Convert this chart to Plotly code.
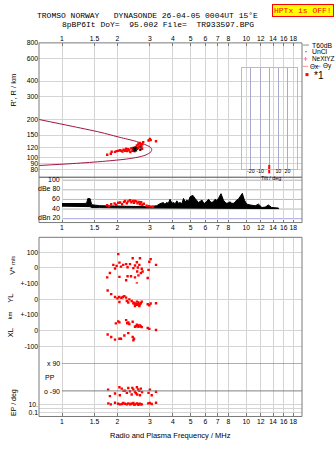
import numpy as np
import plotly.graph_objects as go

W, H = 335, 451
def X(p): return p / W
def Y(p): return 1 - p / H

SANS = "Liberation Sans, Arial, sans-serif"
MONO = "Liberation Mono, DejaVu Sans Mono, monospace"
GRID = "#d4d4d4"
FRAME = "#7a7a7a"
RED = "#ff0000"
PROFILE = "#a0153e"

# ---------------- data ----------------
freq_ticks = [1, 1.5, 2, 3, 4, 5, 6, 7, 8, 10, 12, 14, 16, 18]
freq_labels = ["1", "1.5", "2", "3", "4", "5", "6", "7", "8", "10", "12", "14", "16", "18"]
height_ticks = [80, 90, 100, 120, 150, 200, 300, 400, 600, 800]

# model E-layer profile (virtual height trace)
model_f = [0.75, 1.105, 1.609, 2.066, 2.49, 2.72, 2.897, 3.027, 3.072, 3.046, 2.971, 2.826, 2.588, 2.199, 1.609, 1.105, 0.75]
model_h = [199.1, 177.4, 158.0, 143.8, 134.6, 128.7, 124.3, 119.9, 115.3, 111.1, 107.8, 104.0, 100.4, 96.7, 92.6, 89.1, 86.3]

# echoes: virtual height
echo_f = [1.76, 1.84, 1.86, 1.94, 1.98, 2.02, 2.06, 2.10, 2.13, 2.16, 2.20, 2.23, 2.26, 2.29, 2.32, 2.35, 2.38,
          2.41, 2.44, 2.47, 2.52, 2.55, 2.58, 2.60, 2.62, 2.65, 2.68, 2.70, 2.73, 2.76, 2.72, 2.66, 2.95, 3.00, 3.03, 3.24]
echo_h = [105, 107, 110.7, 110.6, 112, 112.6, 114, 113, 111, 115, 113, 117, 112, 116, 114, 110, 118,
          113, 119, 112, 120, 124, 118, 128, 122, 130, 125, 121, 127, 132, 117, 115, 136, 140, 137, 134]
star_f = [2.49]
star_h = [116]

# noise level (dB) envelope
noise_f = [1.0, 1.1, 1.2, 1.3, 1.36, 1.38, 1.42, 1.45, 1.6, 2.0, 2.5, 3.0, 3.27, 3.4, 3.55, 3.62, 3.70, 3.78, 3.86,
           3.95, 4.03, 4.12, 4.20, 4.29, 4.38, 4.47, 4.57, 4.66, 4.76, 4.86, 4.96, 5.13, 5.28, 5.4, 5.51, 5.63,
           5.75, 5.85, 5.95, 6.1, 6.25, 6.4, 6.52, 6.65, 6.79, 6.93, 7.07, 7.3, 7.52, 7.68, 7.84, 8.0, 8.17,
           8.35, 8.52, 8.7, 8.88, 9.05, 9.26, 9.53, 9.78, 10.07, 10.5, 11.2, 11.67, 12.17, 12.7, 13.2, 13.75,
           14.3, 15.0]
noise_hi = [51.5, 51, 51, 51.5, 52, 61.7, 61.7, 49, 47, 46.5, 46, 44.7, 47, 51, 53.5, 50, 53.5, 52, 60.4,
            52, 53.5, 51, 57, 52, 53.5, 51, 62.1, 55, 58.7, 56, 65.4, 68.6, 62.1, 58, 53.5, 56,
            58.7, 54, 51.8, 56, 60.4, 55, 53.5, 56, 60.4, 58, 62.1, 72, 58.7, 54, 51.8, 53, 55,
            52, 51.8, 54, 58.7, 60, 67, 72.7, 58.7, 50.2, 48.5, 46.8, 50.2, 43.3, 44, 48.5, 43.3,
            43, 42]
noise_lo = [46, 46, 46, 46, 46, 45, 45, 43, 43, 42.5, 42, 41.5, 41, 41, 41, 41, 41, 41, 41,
            41, 41, 41, 41, 41, 41, 41, 41, 41, 41, 41, 41, 41, 41, 41, 41, 41,
            41, 41, 41, 41, 41, 41, 41, 41, 41, 41, 41, 41, 41, 41, 41, 41, 41,
            41, 41, 41, 41, 41, 41, 41, 41, 41, 41, 41, 41, 41, 41, 41, 41,
            41, 41]

# echo amplitudes (dB)
amp_f = [1.76, 1.80, 1.85, 1.93, 1.97, 2.02, 2.07, 2.12, 2.17, 2.20, 2.25, 2.29, 2.34, 2.38, 2.42, 2.46, 2.49,
         2.53, 2.57, 2.61, 2.65, 2.69, 2.73, 2.78, 2.88, 2.97, 3.05, 3.12]
amp_db = [48, 46, 50, 51.5, 49, 53, 53.5, 50, 55, 57, 52, 56, 58.4, 54, 57, 53, 57,
          56, 52, 55, 50, 54, 49, 51, 46.8, 46, 45, 44.7]

# V* (m/s)
vs_f = [2.02, 1.98, 1.94, 2.05, 2.09, 2.15, 2.23, 2.27, 2.34, 2.42, 2.49, 2.55, 2.58, 2.63, 2.65, 2.71, 2.68, 2.74,
        2.60, 2.49, 2.37, 2.27, 2.23, 2.55, 2.95, 2.92, 3.03, 3.24, 1.76, 2.05, 1.90, 2.44, 2.98, 1.82, 2.56]
vs_v = [89, 13, -4, 34, 8, 19, 24, 4, 24, 62, 15, 36, 2, 19, 62, -6, -34, -24,
        -49, -62, -55, -55, -81, -102, -13, -66, 57, 19, -62, -59, 19, -2, 40, -34, -24]

# YL (km)
yl_f = [1.77, 1.85, 1.94, 2.00, 2.04, 2.05, 2.10, 2.14, 2.18, 2.23, 2.25, 2.29, 2.32, 2.39, 2.44, 2.49, 2.49,
        2.55, 2.55, 2.60, 2.63, 2.65, 2.71, 2.92, 2.98, 3.03, 3.24, 2.58, 2.68, 2.62, 2.52, 2.45]
yl_v = [58, 34, 15, 6, 15, -17, 10, 15, 21, 11, -11, -21, 0, -11, -21, -27, -43,
        -36, -15, -21, -43, -32, -15, -32, -38, -27, -25, -30, -25, -38, -32, -28]

# XL (km)
xl_f = [1.96, 2.02, 2.05, 2.23, 2.26, 2.29, 2.32, 2.42, 2.49, 2.55, 2.60, 2.65, 2.71, 2.92, 2.98, 3.24,
        1.77, 1.85, 1.94, 2.05, 2.09, 2.18, 2.29, 2.42, 2.46, 2.44, 2.52, 2.58, 2.68]
xl_v = [49, 62, 55, 70, 50, 55, 45, 59, 27, 40, 27, 35, 24, 19, 13, 6,
        -24, -40, -57, -51, -51, -30, -15, -40, -51, -62, 30, 35, 28]

# PP polarization (deg)
pp_f = [1.78, 1.82, 1.94, 2.05, 2.06, 2.11, 2.20, 2.25, 2.29, 2.34, 2.39, 2.44, 2.49, 2.55, 2.56, 2.63, 2.68,
        2.65, 2.95, 3.00, 3.07, 3.24, 2.16, 2.59, 2.52, 2.72, 2.41]
pp_v = [-82, -124, -107, -66, -118, -75, -88, -103, -71, -92, -114, -82, -96, -66, -114, -90, -75,
        -118, -103, -82, -118, -96, -90, -80, -105, -98, -70]

# EP (deg)
ep_f = [1.785, 1.84, 1.94, 2.02, 2.065, 2.15, 2.2, 2.25, 2.29, 2.34, 2.39, 2.44, 2.49, 2.55, 2.60, 2.65, 2.71,
        2.94, 3.0, 3.07, 3.24, 2.12, 2.36, 2.47, 2.58, 2.68]
ep_v = [21, 12, 32, 18, 12, 27, 18, 12, 21, 12, 18, 27, 12, 21, 10, 18, 12,
        21, 27, 15, 32, 15, 15, 10, 15, 12]

# tilt histogram
tilt_x = [0]
tilt_y = [0]

# ---------------- figure ----------------
XR = [np.log10(0.75), np.log10(20.1)]
XDOM = [X(39), X(302)]
PX1MHZ = 39 + (0 - XR[0]) / (XR[1] - XR[0]) * 263  # pixel of 1 MHz

fig = go.Figure()
sq = dict(symbol="square", size=2.4, color=RED, line=dict(width=0))

fig.add_trace(go.Scatter(x=model_f, y=model_h, mode="lines", line=dict(color=PROFILE, width=1, shape="spline", smoothing=0.6),
                         xaxis="x", yaxis="y", hoverinfo="skip"))
fig.add_trace(go.Scatter(x=echo_f, y=echo_h, mode="markers", marker=sq, xaxis="x", yaxis="y"))
fig.add_trace(go.Scatter(x=star_f, y=star_h, mode="markers+text", text=["I"], textposition="middle right",
                         textfont=dict(family=SANS, size=7, color="black"),
                         marker=dict(symbol="asterisk-open", size=5, color="black", line=dict(width=1.2, color="black")),
                         xaxis="x", yaxis="y"))

fig.add_trace(go.Scatter(x=noise_f + noise_f[::-1], y=noise_hi + noise_lo[::-1], mode="lines", fill="toself",
                         fillcolor="black", line=dict(color="black", width=1), xaxis="x2", yaxis="y2"))
fig.add_trace(go.Scatter(x=amp_f, y=amp_db, mode="markers", marker=sq, xaxis="x2", yaxis="y2"))

fig.add_trace(go.Scatter(x=vs_f, y=vs_v, mode="markers", marker=sq, xaxis="x3", yaxis="y7"))
fig.add_trace(go.Scatter(x=yl_f, y=yl_v, mode="markers", marker=sq, xaxis="x3", yaxis="y6"))
fig.add_trace(go.Scatter(x=xl_f, y=xl_v, mode="markers", marker=sq, xaxis="x3", yaxis="y5"))
fig.add_trace(go.Scatter(x=pp_f, y=pp_v, mode="markers", marker=sq, xaxis="x3", yaxis="y4"))
fig.add_trace(go.Scatter(x=ep_f, y=ep_v, mode="markers", marker=sq, xaxis="x3", yaxis="y3"))

fig.add_trace(go.Scatter(x=tilt_x, y=tilt_y, mode="markers", cliponaxis=False,
                         marker=dict(symbol="line-ns", size=6, line=dict(color=RED, width=2)),
                         xaxis="x4", yaxis="y8"))

tickfont = dict(family=SANS, size=6.8, color="black")

def xax(**kw):
    d = dict(type="log", range=XR, domain=XDOM, tickmode="array", tickvals=freq_ticks, ticktext=freq_labels,
             tickangle=0, showgrid=True, gridcolor=GRID, gridwidth=1, zeroline=False, showline=False,
             ticks="inside", ticklen=3, tickcolor=FRAME, tickfont=tickfont)
    d.update(kw)
    return d

def yax(**kw):
    d = dict(zeroline=False, showline=False, ticks="", tickfont=tickfont, showgrid=True, gridcolor=GRID,
             gridwidth=1, tickmode="array", anchor="x3")
    d.update(kw)
    return d

fig.update_layout(
    width=W, height=H, margin=dict(l=0, r=0, t=0, b=0), showlegend=False,
    paper_bgcolor="white", plot_bgcolor="rgba(0,0,0,0)",
    xaxis=xax(anchor="y", side="top"),
    xaxis2=xax(anchor="y2", side="bottom"),
    xaxis3=xax(anchor="y3", side="bottom"),
    yaxis=dict(type="log", range=[np.log10(69.7), np.log10(801)], domain=[Y(176), Y(39.5)], anchor="x",
               tickmode="array", tickvals=height_ticks, ticktext=[str(v) for v in height_ticks],
               showgrid=True, gridcolor=GRID, zeroline=False, showline=False, ticks="", tickfont=tickfont),
    yaxis2=dict(range=[11.9, 106.1], domain=[Y(222), Y(176)], anchor="x2", showticklabels=False,
                showgrid=False, zeroline=False, showline=False),
    yaxis3=yax(type="log", range=[-2, 2], domain=[Y(419), Y(403)], tickvals=[10, 1, 0.1], ticktext=["10.", "", "0.1"]),
    yaxis4=yax(range=[-154.3, 90], domain=[Y(403), Y(365)], showticklabels=False, showgrid=False),
    yaxis5=yax(range=[-211.5, 102.6], domain=[Y(365), Y(316)], tickvals=[-100, 0], ticktext=["-100", "0"]),
    yaxis6=yax(range=[-102.6, 102.6], domain=[Y(316), Y(284)], tickvals=[-100, 0, 100], ticktext=["+-100", "0", "+-100"]),
    yaxis7=yax(range=[-102.6, 198.7], domain=[Y(284), Y(237)], tickvals=[0, 100], ticktext=["0", "100"]),
    xaxis4=dict(domain=[X(241.7), X(296.7)], range=[-30, 30], anchor="y8", tickmode="array",
                tickvals=[-20, -10, 0, 10, 20], ticktext=["-20", "-10", "", "10", "20"], tickangle=0,
                ticklabelstandoff=-3,
                showgrid=True, gridcolor="#a9a9cc", zeroline=False, showline=True, linecolor="#b8b8d8",
                mirror=True, ticks="", tickfont=dict(family=SANS, size=5.3, color="black")),
    yaxis8=dict(domain=[Y(167.7), Y(65)], range=[0, 1], anchor="x4", showticklabels=False, showgrid=False,
                zeroline=False, showline=True, linecolor="#b8b8d8", mirror=True),
)

shapes = []
def rect(x0, y0, x1, y1, color=FRAME):
    shapes.append(dict(type="rect", xref="paper", yref="paper", x0=X(x0), x1=X(x1), y0=Y(y1), y1=Y(y0),
                       line=dict(color=color, width=1), fillcolor="rgba(0,0,0,0)", layer="above"))

rect(39, 39.5, 302, 176)
rect(39, 176, 302, 222)
rect(39, 237, 302, 419)

# dB panel reference lines (start at 1 MHz)
for v, c in [(100, "#b0b0b0"), (80, "#b8b8b8"), (60, "#b8b8b8"), (40, "#b8b8b8"), (20, "#a8a8e8")]:
    shapes.append(dict(type="line", xref="paper", yref="y2", x0=X(PX1MHZ), x1=X(302), y0=v, y1=v,
                       line=dict(color=c, width=1), layer="below"))
# PP reference lines
for v in [90, -90]:
    shapes.append(dict(type="line", xref="paper", yref="y4", x0=X(PX1MHZ), x1=X(302), y0=v, y1=v,
                       line=dict(color="#808080", width=1)))

# legend glyphs
shapes.append(dict(type="line", xref="paper", yref="paper", x0=X(303), x1=X(309), y0=Y(41.7), y1=Y(41.7),
                   line=dict(color="#909090", width=1)))
shapes.append(dict(type="line", xref="paper", yref="paper", x0=X(303), x1=X(308), y0=Y(63.3), y1=Y(63.3),
                   line=dict(color="#ff8a8a", width=1)))
shapes.append(dict(type="line", xref="paper", yref="paper", x0=X(315), x1=X(320.5), y0=Y(63.3), y1=Y(63.3),
                   line=dict(color="#8a8aff", width=1)))
shapes.append(dict(type="rect", xref="paper", yref="paper", x0=X(305.5), x1=X(308.5), y0=Y(73.2), y1=Y(70.2),
                   line=dict(width=0), fillcolor=RED))
shapes.append(dict(type="line", xref="paper", yref="paper", x0=X(303.5), x1=X(307.5), y0=Y(55.7), y1=Y(55.7),
                   line=dict(color="#ff7aa0", width=1)))
shapes.append(dict(type="line", xref="paper", yref="paper", x0=X(305.5), x1=X(305.5), y0=Y(53.7), y1=Y(57.7),
                   line=dict(color="#ff7aa0", width=1)))
shapes.append(dict(type="rect", xref="paper", yref="paper", x0=X(305.5), x1=X(306.5), y0=Y(49), y1=Y(48),
                   line=dict(width=0), fillcolor="black"))
fig.update_layout(shapes=shapes)

ann = []
def txt(t, x, y, size=7, xa="center", ya="middle", color="black", family=SANS, angle=0, **kw):
    d = dict(text=t, x=X(x), y=Y(y), xref="paper", yref="paper", xanchor=xa, yanchor=ya, showarrow=False,
             font=dict(family=family, size=size, color=color), textangle=angle)
    d.update(kw)
    ann.append(d)

txt("TROMSO NORWAY   DYNASONDE 26-04-05 0004UT 15°E", 35, 11.8, size=8, xa="left", family=MONO)
txt("8pBP6It DoY=  95.002 File=  TR933597.BPG", 60, 20.6, size=8, xa="left", family=MONO)
txt("HPTx is OFF!", 302.5, 6.8, size=8, family=MONO, color=RED, bgcolor="#ffff00", bordercolor=RED,
    borderwidth=1, borderpad=1)

txt("R', R / km", 13.3, 87.5, size=7.5, angle=-90)
txt("V* <span style='font-size:5.5px'>m/s</span>", 13, 266, size=7.5, angle=-90)
txt("YL", 10.5, 299, size=7.5, angle=-90)
txt("km", 10.5, 317, size=6, angle=-90)
txt("XL", 10.5, 334, size=7.5, angle=-90)
txt("EP / deg", 13.3, 405, size=7, angle=-90)
txt("Radio and Plasma Frequency / MHz", 170.5, 438.5, size=7.5)

for v, t in [(100, "100"), (80, "dBe 80"), (60, "60"), (40, "40"), (20, "dBn 20")]:
    ann.append(dict(text=t, x=X(PX1MHZ - 0.5), y=v, xref="paper", yref="y2", xanchor="right", yanchor="middle",
                    yshift=1, showarrow=False, font=dict(family=SANS, size=7, color="black")))

txt("x 90", PX1MHZ - 0.5, 365, xa="right")
txt("PP", 42.5, 379.3, xa="left")
txt("o -90", PX1MHZ - 0.5, 393.3, xa="right")

txt("Tilt / deg", 271, 176.3, size=5.3)

# legend texts
txt("T60dB", 310, 41.7, size=6.8, xa="left")
txt("UnCl", 310, 48.3, size=6.8, xa="left")
txt("NeXtYZ", 310, 55.7, size=6.4, xa="left")
txt("Θx", 308.3, 63.3, size=6.4, xa="left")
txt("Θy", 321, 63.3, size=6.4, xa="left")
txt("*1", 312, 72.5, size=10, xa="left")

fig.update_layout(annotations=ann)
fig.write_html("out.html")
